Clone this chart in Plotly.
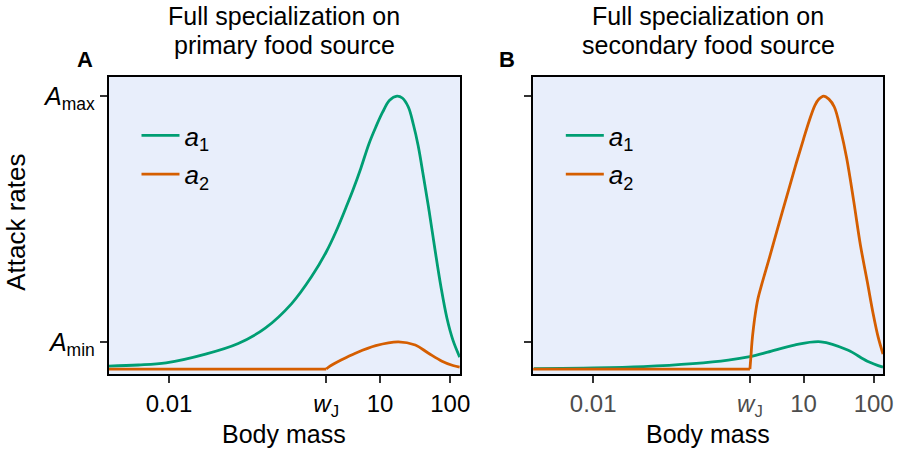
import plotly.graph_objects as go

# ---------------- data ----------------
W_J = 1.72          # body mass at maturation (tick "w_J")
A_MIN, A_MAX = 0.1, 1.0
M_LO = 0.00139

# Panel A: full specialization on primary food source
mass_A_a1 = [0.00139, 0.00367, 0.00908, 0.0331, 0.0966, 0.231, 0.555, 1.06, 1.72, 2.38, 3.30,
             4.13, 5.35, 6.94, 8.70, 10.9, 13.7, 17.5, 20.8, 25.3, 29.8, 35.0, 41.2, 50.0,
             60.7, 73.8, 89.5, 109, 136]
A_a1 = [0.011, 0.015, 0.023, 0.055, 0.094, 0.149, 0.240, 0.338, 0.429, 0.505, 0.593,
        0.656, 0.736, 0.824, 0.886, 0.941, 0.985, 1.0, 0.993, 0.960, 0.897, 0.817, 0.711, 0.579,
        0.436, 0.300, 0.187, 0.106, 0.044]

# a2 is flat (zero) before maturation, then rises
mass_A_a2_juv = [M_LO, W_J]
A_a2_juv = [0.0, 0.0]
mass_A_a2 = [1.72, 1.90, 2.80, 4.55, 8.71, 18.3, 31.8, 48.4, 76.2, 109, 136]
A_a2 = [0.0, 0.009, 0.033, 0.059, 0.086, 0.1, 0.088, 0.059, 0.029, 0.013, 0.007]

# Panel B: full specialization on secondary food source
mass_B_a1 = [0.00143, 0.0103, 0.0521, 0.264, 0.845, 1.72, 3.08, 7.40, 17.7, 42.6, 81.3, 136]
B_a1 = [0.002, 0.004, 0.009, 0.020, 0.033, 0.046, 0.062, 0.088, 0.1, 0.070, 0.029, 0.007]

mass_B_a2_juv = [M_LO, W_J]
B_a2_juv = [0.0, 0.0]
mass_B_a2 = [1.72, 1.78, 1.84, 1.93, 2.06, 2.23, 2.54, 3.19, 4.13, 6.09, 7.89, 9.90, 12.0,
             14.6, 16.6, 19.3, 23.0, 27.5, 33.9, 41.2, 51.7, 64.8, 81.3, 98.7, 116, 136]
B_a2 = [0.0, 0.048, 0.099, 0.150, 0.205, 0.256, 0.311, 0.399, 0.502, 0.654, 0.755, 0.839, 0.908,
        0.967, 0.989, 1.0, 0.989, 0.960, 0.875, 0.773, 0.619, 0.454, 0.319, 0.201, 0.117, 0.055]

x_tick_vals = [0.01, W_J, 10, 100]
x_tick_text = ["0.01", "<i>w</i><sub>J</sub>", "10", "100"]
y_tick_vals = [A_MIN, A_MAX]
y_tick_text = ["<i>A</i><sub>min</sub>", "<i>A</i><sub>max</sub>"]
panel_titles = [("Full specialization on", "primary food source"),
                ("Full specialization on", "secondary food source")]
panel_letters = ["A", "B"]

GREEN = "#009E73"
ORANGE = "#D55E00"
FONT = "Liberation Sans, Arial, sans-serif"
W, H = 917, 453

# ---------------- figure ----------------
fig = go.Figure()

def add(x, y, color, name, xa, ya, legend, show=True, spline=True):
    fig.add_trace(go.Scatter(
        x=x, y=y, mode="lines", name=name, showlegend=show,
        line=dict(color=color, width=2.8,
                  shape="spline" if spline else "linear", smoothing=1.0),
        xaxis=xa, yaxis=ya, legend=legend, legendgroup=name + legend,
        hoverinfo="skip"))

A1 = "<i>a</i><sub>1</sub>"
A2 = "<i>a</i><sub>2</sub>"
add(mass_A_a1, A_a1, GREEN, A1, "x", "y", "legend")
add(mass_A_a2_juv, A_a2_juv, ORANGE, A2, "x", "y", "legend", show=False, spline=False)
add(mass_A_a2, A_a2, ORANGE, A2, "x", "y", "legend")
add(mass_B_a1, B_a1, GREEN, A1, "x2", "y2", "legend2")
add(mass_B_a2_juv, B_a2_juv, ORANGE, A2, "x2", "y2", "legend2", show=False, spline=False)
add(mass_B_a2, B_a2, ORANGE, A2, "x2", "y2", "legend2")

# panel geometry in pixels
pA = (110, 465)
pB = (539, 893)
top, bottom = 77, 374
xdomA = [pA[0] / W, pA[1] / W]
xdomB = [pB[0] / W, pB[1] / W]
ydom = [1 - bottom / H, 1 - top / H]

xrange_log = [-2.856, 2.137]
yrange = [-0.018, 1.07]

def xaxis(domain, anchor, tickcolor):
    return dict(domain=domain, anchor=anchor, type="log", range=xrange_log,
                tickmode="array", tickvals=x_tick_vals, ticktext=x_tick_text,
                ticks="outside", ticklen=7, tickwidth=2, tickcolor="#333333",
                tickfont=dict(family=FONT, size=24, color=tickcolor),
                showgrid=False, zeroline=False,
                showline=True, mirror=True, linecolor="black", linewidth=2)

def yaxis(domain, anchor, show_labels):
    return dict(domain=domain, anchor=anchor, range=yrange,
                tickmode="array", tickvals=y_tick_vals,
                ticktext=y_tick_text if show_labels else ["", ""],
                ticks="outside", ticklen=7, tickwidth=2, tickcolor="#333333",
                tickfont=dict(family=FONT, size=25, color="black"),
                showgrid=False, zeroline=False,
                showline=True, mirror=True, linecolor="black", linewidth=2)

legend_common = dict(font=dict(family=FONT, size=26, color="black"),
                     bgcolor="rgba(0,0,0,0)", itemwidth=38, tracegroupgap=2,
                     yanchor="top", xanchor="left")

fig.update_layout(
    width=W, height=H,
    margin=dict(l=0, r=0, t=0, b=0),
    paper_bgcolor="white",
    plot_bgcolor="#e8eefb",
    font=dict(family=FONT, color="black"),
    xaxis=xaxis(xdomA, "y", "black"),
    yaxis=yaxis(ydom, "x", True),
    xaxis2=xaxis(xdomB, "y2", "#4d4d4d"),
    yaxis2=yaxis(ydom, "x2", False),
    legend=dict(x=(pA[0] + 28) / W, y=1 - 112 / H, **legend_common),
    legend2=dict(x=(pB[0] + 28) / W, y=1 - 112 / H, **legend_common),
    showlegend=True,
)

def note(text, xpx, ypx, size, angle=0, color="black"):
    fig.add_annotation(text=text, x=xpx / W, y=1 - ypx / H, xref="paper", yref="paper",
                       xanchor="center", yanchor="middle", showarrow=False,
                       textangle=angle, font=dict(family=FONT, size=size, color=color))

for dom, (l1, l2), letter, lx in [(pA, panel_titles[0], panel_letters[0], 86),
                                   (pB, panel_titles[1], panel_letters[1], 513)]:
    cx = (dom[0] + dom[1]) / 2
    note(l1, cx, 16.5, 25)
    note(l2, cx, 45.5, 25)
    note("<b>" + letter + "</b>", lx, 59, 22)
    note("Body mass", cx, 433.5, 25)

note("Attack rates", 16, 222, 26, angle=-90)

fig.write_html("out.html")
